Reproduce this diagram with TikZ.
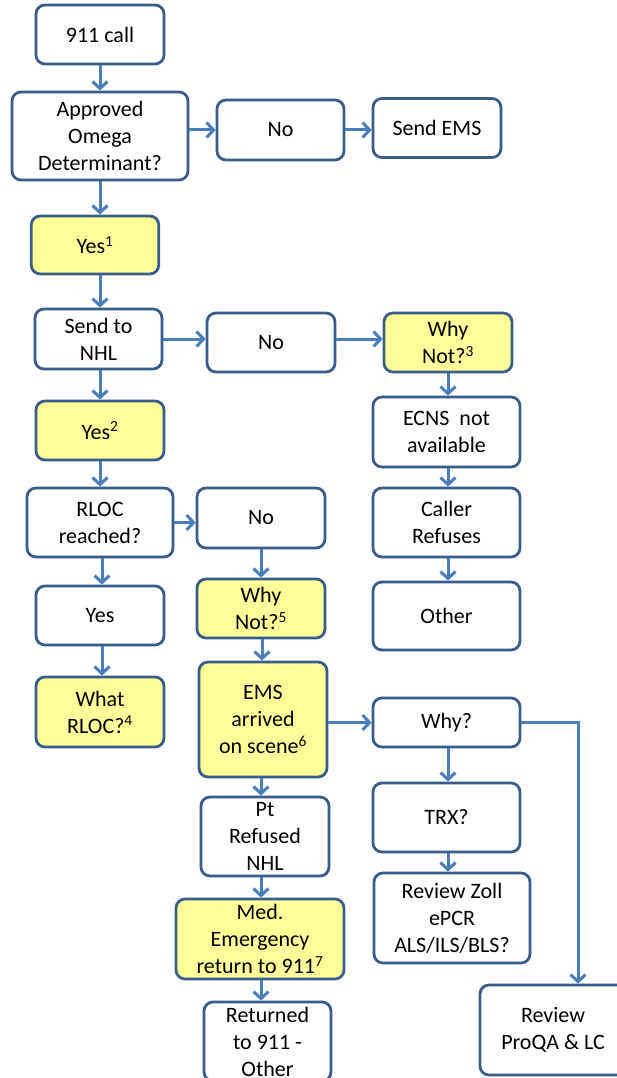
\documentclass[tikz,border=0pt]{standalone}
\usepackage{fontspec}
\setmainfont{Carlito}
\usetikzlibrary{arrows.meta}
\definecolor{boxline}{HTML}{385D8A}
\definecolor{arrline}{HTML}{4A7EBB}
\definecolor{hilite}{HTML}{FFFF99}
\begin{document}
\begin{tikzpicture}[x=1pt,y=-1pt,
  box/.style={draw=boxline, line width=2.8pt, rounded corners=9pt, fill=white,
    inner sep=0pt, align=center, font=\fontsize{22}{27}\selectfont},
  ybox/.style={box, fill=hilite},
  arr/.style={draw=arrline, line width=3pt,
    -{Straight Barb[length=7pt,width=15pt,line width=3pt]}}]
\useasboundingbox (0,0) rectangle (617,1078);
\fill[white] (0,0) rectangle (617,1078);
% nodes
\node[box, minimum width=128, minimum height=59] (call) at (100,34.5) {911 call};
\node[box, minimum width=176, minimum height=88] (appr) at (100,136) {Approved\\Omega\\Determinant?};
\node[box, minimum width=127, minimum height=60] (no1) at (280.5,130) {No};
\node[box, minimum width=128, minimum height=59] (ems) at (437,128) {Send EMS};
\node[ybox, minimum width=127.5, minimum height=58] (yes1) at (95,245) {Yes\textsuperscript{1}};
\node[box, minimum width=127, minimum height=60] (nhl) at (98.5,339) {Send to\\NHL};
\node[box, minimum width=128, minimum height=59] (no2) at (271,342.5) {No};
\node[ybox, minimum width=128, minimum height=59] (why3) at (448,342.5) {Why\\Not?\textsuperscript{3}};
\node[ybox, minimum width=128, minimum height=59] (yes2) at (100,430.5) {Yes\textsuperscript{2}};
\node[box, minimum width=147, minimum height=70] (ecns) at (446.5,432) {ECNS~ not\\available};
\node[box, minimum width=146, minimum height=69] (rloc) at (100,522.5) {RLOC\\reached?};
\node[box, minimum width=128, minimum height=60] (no3) at (261,518) {No};
\node[box, minimum width=147, minimum height=69] (caller) at (446.5,522.5) {Caller\\Refuses};
\node[box, minimum width=128, minimum height=59] (yes3) at (100,615.5) {Yes};
\node[ybox, minimum width=128, minimum height=59] (why5) at (261,608.5) {Why\\Not?\textsuperscript{5}};
\node[box, minimum width=147, minimum height=68] (other) at (446.5,616) {Other};
\node[ybox, minimum width=128, minimum height=70] (what) at (100,712) {What\\RLOC?\textsuperscript{4}};
\node[ybox, minimum width=128, minimum height=115] (arrived) at (263,719.5) {EMS\\arrived\\on scene\textsuperscript{6}};
\node[box, minimum width=147, minimum height=49] (why) at (446.5,722.5) {Why?};
\node[box, minimum width=128, minimum height=79] (pt) at (265,836.5) {Pt\\Refused\\NHL};
\node[box, minimum width=147, minimum height=69] (trx) at (446.5,817.5) {TRX?};
\node[box, minimum width=156, minimum height=90] (zoll) at (452,918) {Review Zoll\\ePCR\\ALS/ILS/BLS?};
\node[ybox, minimum width=168, minimum height=80] (med) at (260,939) {Med.\\Emergency\\return to 911\textsuperscript{7}};
\node[box, minimum width=127, minimum height=79] (ret) at (267.5,1041.5) {Returned\\to 911 -\\Other};
\node[box, minimum width=146, minimum height=90] (proqa) at (553,1030) {Review\\ProQA \& LC};
\coordinate (bend) at (578,722.5);
% connectors
\draw[arr] (call.south) -- (call.south |- appr.north);
\draw[arr] (no1.west -| appr.east) -- (no1.west);
\draw[arr] (no1.east) -- (no1.east -| ems.west);
\draw[arr] (appr.south) -- (appr.south |- yes1.north);
\draw[arr] (appr.south |- yes1.south) -- (appr.south |- nhl.north);
\draw[arr] (nhl.east) -- (nhl.east -| no2.west);
\draw[arr] (nhl.east -| no2.east) -- (nhl.east -| why3.west);
\draw[arr] (appr.south |- nhl.south) -- (appr.south |- yes2.north);
\draw[arr] (why3.south) -- (why3.south |- ecns.north);
\draw[arr] (why3.south |- ecns.south) -- (why3.south |- caller.north);
\draw[arr] (why3.south |- caller.south) -- (why3.south |- other.north);
\draw[arr] (yes2.south) -- (yes2.south |- rloc.north);
\draw[arr] (rloc.east) -- (rloc.east -| no3.west);
\draw[arr] ([xshift=2pt]rloc.south) -- ([xshift=2pt]rloc.south |- yes3.north);
\draw[arr] ([xshift=2pt]yes3.south) -- ([xshift=2pt]yes3.south |- what.north);
\draw[arr] (no3.south) -- (no3.south |- why5.north);
\draw[arr] ([xshift=1pt]why5.south) -- ([xshift=1pt]why5.south |- arrived.north);
\draw[arr] (arrived.east |- why.west) -- (why.west);
\draw[arr] ([xshift=1.5pt]why.south) -- ([xshift=1.5pt]why.south |- trx.north);
\draw[arr] ([xshift=1.5pt]trx.south) -- ([xshift=1.5pt]trx.south |- zoll.north);
\draw[arr] (why.east) -- (bend) -- (bend |- proqa.north);
\draw[arr] ([xshift=-2pt]arrived.south) -- ([xshift=-2pt]arrived.south |- pt.north);
\draw[arr] ([xshift=-4pt]pt.south) -- ([xshift=-4pt]pt.south |- med.north);
\draw[arr] ([xshift=1pt]med.south) -- ([xshift=1pt]med.south |- ret.north);
\end{tikzpicture}
\end{document}
